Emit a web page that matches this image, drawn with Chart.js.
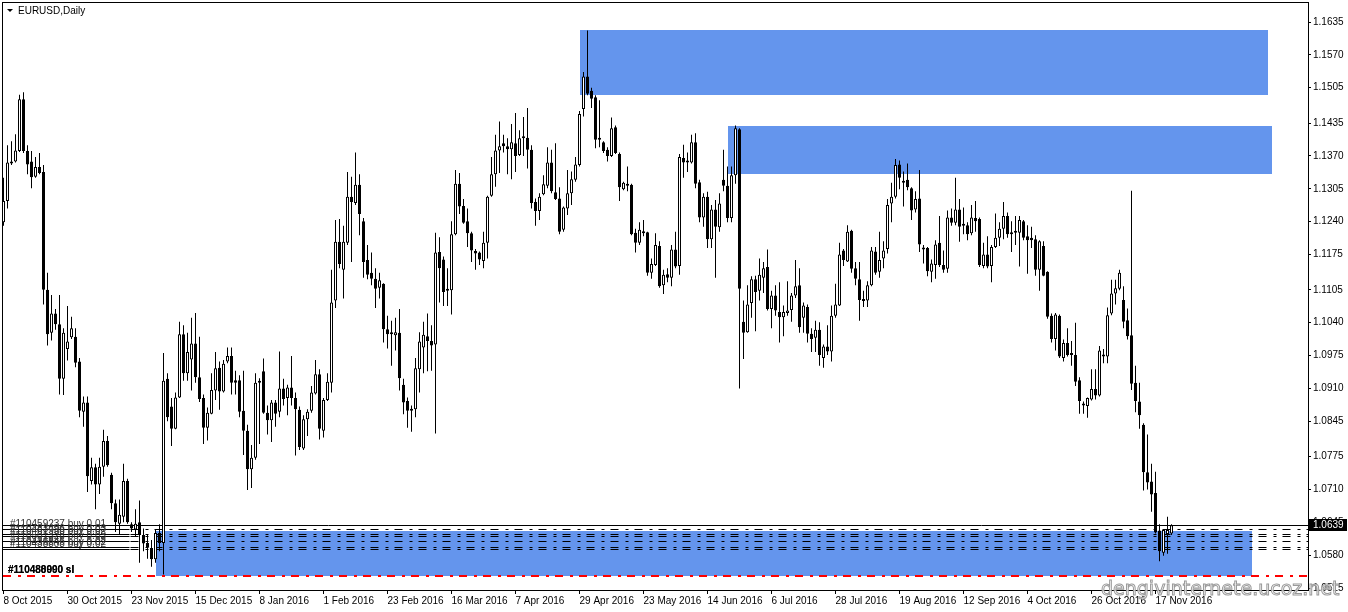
<!DOCTYPE html>
<html>
<head>
<meta charset="utf-8">
<title>EURUSD,Daily</title>
<script src="https://cdn.jsdelivr.net/npm/chart.js@4.4.1/dist/chart.umd.min.js"></script>
<style>
  html, body { margin: 0; padding: 0; background: #fff; }
  #wrap { width: 1348px; height: 612px; }
</style>
</head>
<body>
<div id="wrap"><canvas id="chart" width="1348" height="612"></canvas></div>
<script>
// EURUSD daily bars, 8 Oct 2015 .. 23 Nov 2016
const opens = [
  1.1239,1.1281,1.1355,1.1359,1.1380,1.1482,1.1380,1.1359,1.1329,1.1348,
  1.1338,1.1105,1.1020,1.1058,1.1037,1.0929,1.0988,1.1011,1.1012,1.0963,
  1.0864,1.0882,1.0727,1.0754,1.0720,1.0755,1.0806,1.0739,1.0683,1.0642,
  1.0656,1.0727,1.0641,1.0631,1.0645,1.0620,1.0604,1.0594,1.0572,1.0624,
  1.0604,1.0929,1.0874,1.0830,1.0892,1.1017,1.0940,1.0967,1.0999,1.0932,
  1.0891,1.0832,1.0860,1.0906,1.0951,1.0904,1.0963,1.0974,1.0926,1.0926,
  1.0866,1.0826,1.0750,1.0773,1.0921,1.0944,1.0862,1.0847,1.0882,1.0864,
  1.0910,1.0891,1.0912,1.0891,1.0868,1.0791,1.0849,1.0866,1.0900,1.0938,
  1.0826,1.0887,1.0921,1.1084,1.1200,1.1145,1.1198,1.1289,1.1277,1.1313,
  1.1241,1.1164,1.1139,1.1127,1.1109,1.1117,1.1027,1.1020,1.1015,1.1020,
  1.0917,1.0885,1.0866,1.0869,1.0948,1.0991,1.1013,1.1004,1.0997,1.1180,
  1.1165,1.1107,1.1104,1.1215,1.1315,1.1271,1.1241,1.1217,1.1182,1.1179,
  1.1162,1.1198,1.1291,1.1334,1.1381,1.1395,1.1389,1.1383,1.1395,1.1372,
  1.1405,1.1406,1.1382,1.1279,1.1261,1.1294,1.1311,1.1357,1.1298,1.1286,
  1.1224,1.1266,1.1296,1.1323,1.1352,1.1463,1.1527,1.1499,1.1486,1.1404,
  1.1397,1.1382,1.1370,1.1427,1.1374,1.1304,1.1315,1.1313,1.1218,1.1198,
  1.1217,1.1219,1.1139,1.1154,1.1192,1.1114,1.1136,1.1129,1.1185,1.1152,
  1.1366,1.1357,1.1357,1.1397,1.1318,1.1248,1.1289,1.1205,1.1264,1.1229,
  1.1323,1.1311,1.1247,1.1332,1.1423,1.1042,1.1021,1.1079,1.1126,1.1103,
  1.1129,1.1150,1.1067,1.1094,1.1061,1.1051,1.1059,1.1065,1.1094,1.1114,
  1.1050,1.1071,1.1018,1.1010,1.1026,1.0970,1.0993,1.0983,1.1054,1.1074,
  1.1183,1.1161,1.1222,1.1148,1.1126,1.1085,1.1084,1.1114,1.1181,1.1141,
  1.1167,1.1186,1.1276,1.1289,1.1353,1.1317,1.1323,1.1306,1.1264,1.1286,
  1.1188,1.1188,1.1141,1.1154,1.1198,1.1154,1.1147,1.1248,1.1238,1.1264,
  1.1236,1.1233,1.1217,1.1247,1.1245,1.1152,1.1175,1.1152,1.1190,1.1208,
  1.1226,1.1251,1.1218,1.1218,1.1218,1.1241,1.1211,1.1208,1.1205,1.1145,
  1.1192,1.1141,1.1054,1.1008,1.1054,1.0970,1.1000,1.0979,1.0976,1.0926,
  1.0880,1.0875,1.0888,1.0909,1.0896,1.0973,1.0973,1.1058,1.1098,1.1107,
  1.1085,1.1045,1.1015,1.0921,1.0884,1.0838,1.0744,1.0726,1.0703,1.0629,
  1.0585,1.0622,1.0623
];
const highs = [
  1.1327,1.1391,1.1399,1.1413,1.1491,1.1496,1.1391,1.1380,1.1368,1.1376,
  1.1352,1.1139,1.1095,1.1067,1.1095,1.1029,1.1073,1.1052,1.1029,1.0970,
  1.0894,1.0894,1.0773,1.0761,1.0773,1.0828,1.0816,1.0743,1.0690,1.0690,
  1.0761,1.0731,1.0645,1.0671,1.0688,1.0633,1.0622,1.0610,1.0630,1.0641,
  1.0980,1.0940,1.0891,1.0902,1.1042,1.1035,1.1020,1.1050,1.1059,1.1012,
  1.0898,1.0872,1.0940,1.0982,1.0963,1.0966,1.0991,1.0991,1.0945,1.0936,
  1.0945,1.0838,1.0798,1.0940,1.0930,1.0969,1.0876,1.0887,1.0887,1.0983,
  1.0929,1.0917,1.0974,1.0902,1.0874,1.0857,1.0869,1.0915,1.0966,1.0948,
  1.0891,1.0940,1.1145,1.1243,1.1245,1.1232,1.1338,1.1329,1.1377,1.1334,
  1.1247,1.1194,1.1179,1.1148,1.1139,1.1118,1.1054,1.1044,1.1050,1.1067,
  1.0929,1.0892,1.0876,1.0970,1.1021,1.1042,1.1058,1.1035,1.1218,1.1209,
  1.1171,1.1148,1.1241,1.1342,1.1336,1.1285,1.1266,1.1220,1.1186,1.1181,
  1.1220,1.1291,1.1368,1.1412,1.1438,1.1412,1.1405,1.1433,1.1455,1.1421,
  1.1447,1.1465,1.1391,1.1286,1.1296,1.1332,1.1387,1.1382,1.1395,1.1308,
  1.1270,1.1342,1.1339,1.1368,1.1459,1.1536,1.1618,1.1505,1.1490,1.1480,
  1.1399,1.1387,1.1446,1.1430,1.1377,1.1319,1.1349,1.1315,1.1226,1.1239,
  1.1243,1.1220,1.1167,1.1217,1.1201,1.1145,1.1148,1.1194,1.1220,1.1374,
  1.1392,1.1377,1.1412,1.1415,1.1323,1.1296,1.1299,1.1273,1.1283,1.1296,
  1.1382,1.1349,1.1349,1.1430,1.1425,1.1084,1.1114,1.1132,1.1133,1.1167,
  1.1160,1.1185,1.1103,1.1114,1.1120,1.1074,1.1122,1.1099,1.1164,1.1148,
  1.1080,1.1076,1.1029,1.1044,1.1041,1.0997,1.1035,1.1074,1.1117,1.1198,
  1.1186,1.1233,1.1224,1.1160,1.1160,1.1103,1.1122,1.1190,1.1190,1.1220,
  1.1201,1.1285,1.1317,1.1364,1.1361,1.1339,1.1355,1.1308,1.1300,1.1342,
  1.1194,1.1190,1.1165,1.1203,1.1251,1.1183,1.1262,1.1266,1.1327,1.1285,
  1.1268,1.1239,1.1273,1.1281,1.1248,1.1198,1.1211,1.1194,1.1256,1.1239,
  1.1279,1.1258,1.1241,1.1251,1.1251,1.1243,1.1233,1.1230,1.1213,1.1203,
  1.1201,1.1142,1.1058,1.1059,1.1056,1.1007,1.1029,1.1004,1.1040,1.0932,
  1.0884,1.0892,1.0948,1.0948,1.0994,1.0988,1.1070,1.1125,1.1125,1.1145,
  1.1112,1.1068,1.1301,1.0955,1.0921,1.0841,1.0819,1.0761,1.0745,1.0641,
  1.0631,1.0656,1.0641
];
const lows = [
  1.1232,1.1266,1.1352,1.1357,1.1378,1.1376,1.1334,1.1306,1.1327,1.1334,
  1.1076,1.0995,1.1005,1.1026,1.0898,1.0897,1.0965,1.1008,1.0952,1.0853,
  1.0834,1.0705,1.0720,1.0671,1.0701,1.0735,1.0755,1.0671,1.0626,1.0622,
  1.0645,1.0642,1.0626,1.0618,1.0565,1.0588,1.0573,1.0557,1.0565,1.0588,
  1.0542,1.0845,1.0796,1.0829,1.0891,1.0925,1.0925,1.0906,1.0921,1.0883,
  1.0800,1.0807,1.0859,1.0887,1.0868,1.0902,1.0960,1.0898,1.0898,1.0853,
  1.0778,1.0709,1.0713,1.0769,1.0800,1.0860,1.0819,1.0804,1.0834,1.0853,
  1.0876,1.0857,1.0876,1.0777,1.0788,1.0788,1.0816,1.0862,1.0898,1.0809,
  1.0813,1.0885,1.0902,1.1069,1.1148,1.1088,1.1194,1.1160,1.1273,1.1213,
  1.1129,1.1126,1.1114,1.1069,1.1088,1.1001,1.0989,1.0955,1.0985,1.0906,
  1.0859,1.0832,1.0824,1.0853,1.0902,1.0940,1.0944,1.0945,1.0821,1.1080,
  1.1073,1.1073,1.1056,1.1213,1.1255,1.1236,1.1190,1.1160,1.1145,1.1154,
  1.1148,1.1167,1.1289,1.1309,1.1336,1.1377,1.1334,1.1324,1.1338,1.1370,
  1.1370,1.1345,1.1266,1.1232,1.1243,1.1292,1.1306,1.1296,1.1283,1.1215,
  1.1220,1.1253,1.1273,1.1319,1.1349,1.1448,1.1490,1.1465,1.1385,1.1387,
  1.1376,1.1359,1.1368,1.1374,1.1281,1.1302,1.1300,1.1213,1.1179,1.1194,
  1.1211,1.1133,1.1127,1.1152,1.1109,1.1097,1.1120,1.1112,1.1148,1.1135,
  1.1327,1.1338,1.1355,1.1306,1.1239,1.1230,1.1188,1.1188,1.1129,1.1220,
  1.1300,1.1239,1.1239,1.1315,1.0910,1.0968,1.1020,1.1050,1.1023,1.1084,
  1.1099,1.1064,1.1029,1.1054,1.1001,1.1013,1.1054,1.1042,1.1089,1.1020,
  1.1020,1.1001,1.0982,1.0982,1.0955,1.0951,1.0976,1.0963,1.1050,1.1073,
  1.1152,1.1160,1.1139,1.1114,1.1044,1.1071,1.1071,1.1112,1.1135,1.1129,
  1.1148,1.1177,1.1239,1.1286,1.1304,1.1270,1.1302,1.1243,1.1258,1.1180,
  1.1157,1.1132,1.1120,1.1127,1.1150,1.1139,1.1139,1.1232,1.1233,1.1200,
  1.1215,1.1203,1.1213,1.1220,1.1150,1.1148,1.1148,1.1120,1.1188,1.1192,
  1.1205,1.1208,1.1180,1.1194,1.1151,1.1203,1.1137,1.1188,1.1133,1.1103,
  1.1132,1.1048,1.1001,1.0985,1.0970,1.0963,1.0973,1.0955,1.0915,1.0860,
  1.0860,1.0852,1.0886,1.0888,1.0894,1.0960,1.0960,1.1055,1.1076,1.1104,
  1.1029,1.1007,1.0907,1.0863,1.0830,1.0708,1.0710,1.0666,1.0623,1.0568,
  1.0579,1.0583,1.0620
];
const closes = [
  1.1281,1.1357,1.1359,1.1381,1.1482,1.1380,1.1353,1.1328,1.1348,1.1336,
  1.1105,1.1017,1.1058,1.1037,1.0929,1.1020,1.1003,1.1029,1.0961,1.0866,
  1.0882,1.0736,1.0754,1.0720,1.0755,1.0806,1.0758,1.0683,1.0645,1.0660,
  1.0727,1.0645,1.0633,1.0642,1.0620,1.0603,1.0595,1.0572,1.0624,1.0604,
  1.0925,1.0853,1.0830,1.0892,1.1017,1.0940,1.0982,1.0999,1.0932,1.0889,
  1.0832,1.0862,1.0907,1.0950,1.0904,1.0959,1.0974,1.0921,1.0921,1.0864,
  1.0826,1.0750,1.0773,1.0921,1.0923,1.0862,1.0847,1.0882,1.0860,1.0910,
  1.0889,1.0912,1.0891,1.0869,1.0794,1.0849,1.0864,1.0902,1.0938,1.0830,
  1.0887,1.0923,1.1080,1.1200,1.1156,1.1200,1.1289,1.1279,1.1313,1.1255,
  1.1160,1.1135,1.1127,1.1107,1.1124,1.1027,1.1017,1.1017,1.1021,1.0930,
  1.0882,1.0866,1.0869,1.0950,1.1003,1.1016,1.1004,1.0995,1.1179,1.1148,
  1.1101,1.1103,1.1215,1.1315,1.1270,1.1238,1.1217,1.1183,1.1177,1.1165,
  1.1198,1.1289,1.1334,1.1381,1.1389,1.1389,1.1383,1.1397,1.1370,1.1405,
  1.1406,1.1382,1.1277,1.1261,1.1289,1.1314,1.1357,1.1300,1.1285,1.1220,
  1.1268,1.1296,1.1324,1.1353,1.1453,1.1527,1.1493,1.1483,1.1402,1.1402,
  1.1380,1.1370,1.1425,1.1376,1.1308,1.1317,1.1311,1.1215,1.1198,1.1224,
  1.1220,1.1139,1.1156,1.1194,1.1112,1.1135,1.1129,1.1185,1.1151,1.1368,
  1.1357,1.1358,1.1397,1.1315,1.1248,1.1289,1.1205,1.1264,1.1230,1.1276,
  1.1311,1.1247,1.1332,1.1425,1.1107,1.1020,1.1076,1.1126,1.1101,1.1135,
  1.1148,1.1067,1.1094,1.1064,1.1051,1.1061,1.1064,1.1094,1.1112,1.1031,
  1.1074,1.1018,1.1008,1.1026,1.0976,1.0993,1.0983,1.1054,1.1076,1.1175,
  1.1164,1.1220,1.1147,1.1127,1.1085,1.1083,1.1114,1.1183,1.1139,1.1164,
  1.1183,1.1273,1.1289,1.1352,1.1327,1.1320,1.1308,1.1262,1.1285,1.1195,
  1.1185,1.1142,1.1157,1.1195,1.1154,1.1145,1.1248,1.1238,1.1264,1.1230,
  1.1232,1.1215,1.1248,1.1241,1.1154,1.1175,1.1151,1.1190,1.1208,1.1226,
  1.1251,1.1215,1.1215,1.1220,1.1243,1.1208,1.1203,1.1203,1.1145,1.1201,
  1.1133,1.1052,1.1008,1.1056,1.0973,1.1000,1.0976,1.0976,1.0923,1.0885,
  1.0876,1.0891,1.0909,1.0896,1.0985,1.0977,1.1055,1.1098,1.1108,1.1139,
  1.1042,1.1013,1.0919,1.0885,1.0857,1.0744,1.0724,1.0700,1.0625,1.0588,
  1.0630,1.0630,1.0639
];

// one date label every 16 bars
const dateLabels = [
  '8 Oct 2015', '30 Oct 2015', '23 Nov 2015', '15 Dec 2015', '8 Jan 2016',
  '1 Feb 2016', '23 Feb 2016', '16 Mar 2016', '7 Apr 2016', '29 Apr 2016',
  '23 May 2016', '14 Jun 2016', '6 Jul 2016', '28 Jul 2016', '19 Aug 2016',
  '12 Sep 2016', '4 Oct 2016', '26 Oct 2016', '17 Nov 2016'
];
const priceTicks = [
  1.1635, 1.1570, 1.1505, 1.1435, 1.1370, 1.1305, 1.1240, 1.1175, 1.1105,
  1.1040, 1.0975, 1.0910, 1.0845, 1.0775, 1.0710, 1.0645, 1.0580, 1.0515
];

// rectangles drawn on the chart (bar index from/to, price top/bottom)
const zoneStart  = [144, 181, 38];
const zoneEnd    = [316, 317, 312];
const zoneTop    = [1.1619, 1.1429, 1.0627];
const zoneBottom = [1.1491, 1.1334, 1.0539];

// open orders and stop loss
const bidPrice = 1.0639;
const orderPrices = [1.0631, 1.0622, 1.0618, 1.0609, 1.0597, 1.0593];
const orderLabels = [
  '#110459237 buy 0.01', '#110483496 buy 0.03', '#110461938 buy 0.02',
  '#110501328 buy 0.03', '#110436846 buy 0.02', '#110438808 buy 0.02'
];
const stopPrice = 1.0539;
const stopLabels = ['#110480000 sl', '#110488990 sl'];

const Y_MIN = 1.05111, Y_MAX = 1.16746;
const X_MIN = -0.375, X_MAX = 326.125;

Chart.defaults.font.family = "'Liberation Sans', Arial, sans-serif";
Chart.defaults.font.size = 10;
Chart.defaults.color = '#000';

const idx = opens.map((_, i) => i);
const bodies = idx.map(i => ({ x: i, y: [opens[i], closes[i]] }));
const wicks = idx.map(i => ({ x: i, y: [lows[i], highs[i]] }));

const DASH = [8, 7, 3, 6];

const overlay = {
  id: 'overlay',
  beforeDatasetsDraw(chart) {
    const { ctx, chartArea: a, scales: { x, y } } = chart;
    ctx.save();
    ctx.beginPath();
    ctx.rect(a.left, a.top, a.right - a.left, a.bottom - a.top);
    ctx.clip();

    ctx.fillStyle = '#6495ed';
    zoneStart.forEach((s, i) => {
      const x1 = Math.round(x.getPixelForValue(s));
      const x2 = Math.round(x.getPixelForValue(zoneEnd[i]));
      const y1 = Math.round(y.getPixelForValue(zoneTop[i]));
      const y2 = Math.round(y.getPixelForValue(zoneBottom[i]));
      ctx.fillRect(x1, y1, x2 - x1, y2 - y1);
    });

    // order levels: solid under the labels, dash-dot after
    ctx.strokeStyle = '#000';
    ctx.lineWidth = 1;
    const solidEnd = x.getPixelForValue(31.5);
    orderPrices.forEach(p => {
      const yy = Math.round(y.getPixelForValue(p)) + 0.5;
      ctx.setLineDash(DASH);
      ctx.lineDashOffset = -1;
      ctx.beginPath();
      ctx.moveTo(solidEnd, yy);
      ctx.lineTo(a.right, yy);
      ctx.stroke();
      ctx.setLineDash([]);
      ctx.beginPath();
      ctx.moveTo(a.left, yy);
      ctx.lineTo(solidEnd, yy);
      ctx.stroke();
    });

    // bid line
    const yb = Math.round(y.getPixelForValue(bidPrice)) + 0.5;
    ctx.beginPath();
    ctx.moveTo(a.left, yb);
    ctx.lineTo(a.right, yb);
    ctx.stroke();

    // stop loss
    const ys = Math.round(y.getPixelForValue(stopPrice));
    ctx.strokeStyle = '#ff0000';
    ctx.lineWidth = 2;
    ctx.setLineDash(DASH);
    ctx.lineDashOffset = -1;
    ctx.beginPath();
    ctx.moveTo(a.left, ys);
    ctx.lineTo(a.right, ys);
    ctx.stroke();
    ctx.restore();
  },
  afterDraw(chart) {
    const { ctx, chartArea: a, scales: { y } } = chart;
    ctx.save();

    // frame
    ctx.strokeStyle = '#000';
    ctx.lineWidth = 1;
    ctx.strokeRect(a.left + 0.5, a.top + 0.5, a.right - a.left, a.bottom - a.top);

    // title
    ctx.fillStyle = '#000';
    ctx.beginPath();
    ctx.moveTo(7, 9);
    ctx.lineTo(13, 9);
    ctx.lineTo(10, 12);
    ctx.closePath();
    ctx.fill();
    ctx.font = "10px 'Liberation Sans', Arial, sans-serif";
    ctx.textBaseline = 'alphabetic';
    ctx.textAlign = 'left';
    ctx.fillText('EURUSD,Daily', 18, 14);

    // order labels
    ctx.fillStyle = '#333';
    orderPrices.forEach((p, i) => {
      const yy = Math.round(y.getPixelForValue(p));
      ctx.fillText(orderLabels[i], a.left + 8, yy - 2);
    });
    ctx.font = "bold 10px 'Liberation Sans', Arial, sans-serif";
    const ys = Math.round(y.getPixelForValue(stopPrice));
    ctx.fillStyle = '#000';
    stopLabels.forEach(t => ctx.fillText(t, a.left + 6, ys - 3));

    // current price box on the axis
    const yb = Math.round(y.getPixelForValue(bidPrice));
    ctx.fillStyle = '#000';
    ctx.fillRect(a.right + 1, yb - 6, 38, 12);
    ctx.fillStyle = '#fff';
    ctx.font = "10px 'Liberation Sans', Arial, sans-serif";
    ctx.textBaseline = 'middle';
    ctx.fillText(bidPrice.toFixed(4), a.right + 5, yb);

    // watermark
    ctx.font = "19px 'DejaVu Sans', sans-serif";
    ctx.textBaseline = 'alphabetic';
    ctx.lineWidth = 1;
    ctx.fillStyle = 'rgba(255,255,255,0.8)';
    ctx.strokeStyle = '#9a9a9a';
    ctx.fillText('dengivinternete.ucoz.net', 1101, 595);
    ctx.strokeText('dengivinternete.ucoz.net', 1101, 595);
    ctx.restore();
  }
};

new Chart(document.getElementById('chart'), {
  type: 'bar',
  data: {
    datasets: [
      {
        label: 'body',
        data: bodies,
        backgroundColor: c => (c.dataIndex !== undefined && closes[c.dataIndex] >= opens[c.dataIndex] ? '#ffffff' : '#000000'),
        borderColor: '#000',
        borderWidth: 1,
        borderSkipped: false,
        barThickness: 3,
        minBarLength: 2,
        inflateAmount: 0,
        grouped: false,
        order: 1
      },
      {
        label: 'wick',
        data: wicks,
        backgroundColor: '#000',
        borderWidth: 0,
        barThickness: 1,
        inflateAmount: 0,
        grouped: false,
        order: 2
      }
    ]
  },
  options: {
    responsive: false,
    animation: false,
    devicePixelRatio: 1,
    layout: { padding: { left: 2, top: 2, right: 0, bottom: 0 } },
    plugins: { legend: { display: false }, tooltip: { enabled: false } },
    scales: {
      x: {
        type: 'linear',
        min: X_MIN,
        max: X_MAX,
        offset: false,
        grid: { offset: false, drawOnChartArea: false, drawTicks: true, tickLength: 4, color: '#000' },
        border: { display: false },
        afterBuildTicks: s => { s.ticks = dateLabels.map((_, i) => ({ value: i * 16 })); },
        afterFit: s => { s.height = 22; s.paddingLeft = 0; s.paddingRight = 0; },
        ticks: {
          autoSkip: false,
          maxRotation: 0,
          align: 'start',
          padding: 1,
          color: '#000',
          font: { size: 10 },
          callback: (v, i) => dateLabels[i]
        }
      },
      y: {
        type: 'linear',
        position: 'right',
        min: Y_MIN,
        max: Y_MAX,
        grid: { drawOnChartArea: false, drawTicks: true, tickLength: 3, color: '#000' },
        border: { display: false },
        afterBuildTicks: s => { s.ticks = priceTicks.map(v => ({ value: v })); },
        afterFit: s => { s.width = 40; s.paddingTop = 0; s.paddingBottom = 0; },
        ticks: {
          autoSkip: false,
          padding: 2,
          color: '#000',
          font: { size: 10 },
          callback: v => Number(v).toFixed(4)
        }
      }
    }
  },
  plugins: [overlay]
});
</script>
</body>
</html>
